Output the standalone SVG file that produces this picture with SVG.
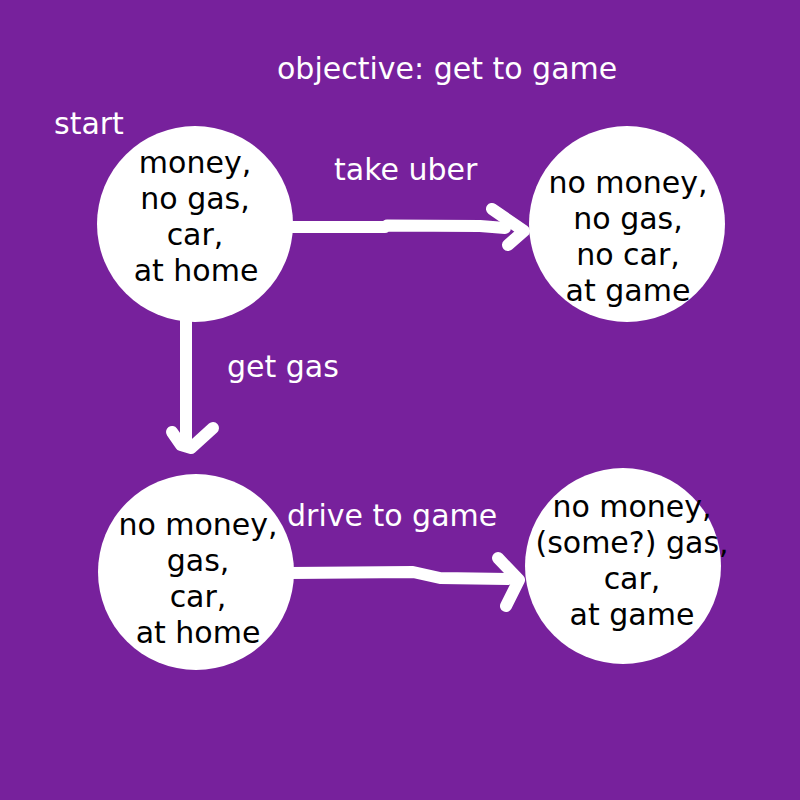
<svg xmlns="http://www.w3.org/2000/svg" width="800" height="800" viewBox="0 0 800 800">
  <style>
    .node { fill: #ffffff; }
    .ntext { font-family: "DejaVu Sans", sans-serif; font-size: 30px; fill: #000000; text-anchor: middle; }
    .label { font-family: "DejaVu Sans", sans-serif; font-size: 30px; fill: #ffffff; }
    .edge { fill: none; stroke: #ffffff; stroke-width: 12; stroke-linecap: round; stroke-linejoin: round; }
  </style>
  <rect x="0" y="0" width="800" height="800" fill="#77219c"/>

  <g id="labels">
    <text class="label" x="277" y="79">objective: get to game</text>
    <text class="label" x="54" y="134">start</text>
  </g>

  <g id="connectors">
    <g id="edge-take-uber">
      <path class="edge" d="M 290,227 L 385,227 L 387,225.5 L 480,226 L 505,228"/>
      <path class="edge" d="M 492,209 L 524,231 L 508,245"/>
      <text class="label" x="334" y="180">take uber</text>
    </g>
    <g id="edge-get-gas">
      <path class="edge" d="M 186,318 L 186,442"/>
      <path class="edge" d="M 172,432 L 181,445 L 191,448 L 213,428"/>
      <text class="label" x="227" y="377">get gas</text>
    </g>
    <g id="edge-drive">
      <path class="edge" d="M 290,573 L 413,572 L 440,578 L 508,579"/>
      <path class="edge" d="M 498,558 L 519,580 L 506,606"/>
      <text class="label" x="287" y="526">drive to game</text>
    </g>
  </g>

  <g id="node-start">
    <circle class="node" cx="195" cy="224" r="98"/>
    <text class="ntext" x="195" y="173">money,</text>
    <text class="ntext" x="195" y="209">no gas,</text>
    <text class="ntext" x="195" y="245">car,</text>
    <text class="ntext" x="196" y="281">at home</text>
  </g>

  <g id="node-uber">
    <circle class="node" cx="627" cy="224" r="98"/>
    <text class="ntext" x="628" y="193">no money,</text>
    <text class="ntext" x="628" y="229">no gas,</text>
    <text class="ntext" x="628" y="265">no car,</text>
    <text class="ntext" x="628" y="301">at game</text>
  </g>

  <g id="node-gas">
    <circle class="node" cx="196" cy="572" r="98"/>
    <text class="ntext" x="198" y="535">no money,</text>
    <text class="ntext" x="198" y="571">gas,</text>
    <text class="ntext" x="198" y="607">car,</text>
    <text class="ntext" x="198" y="643">at home</text>
  </g>

  <g id="node-drive">
    <circle class="node" cx="623" cy="566" r="98"/>
    <text class="ntext" x="632" y="517">no money,</text>
    <text class="ntext" x="632" y="553">(some?) gas,</text>
    <text class="ntext" x="632" y="589">car,</text>
    <text class="ntext" x="632" y="625">at game</text>
  </g>
</svg>
